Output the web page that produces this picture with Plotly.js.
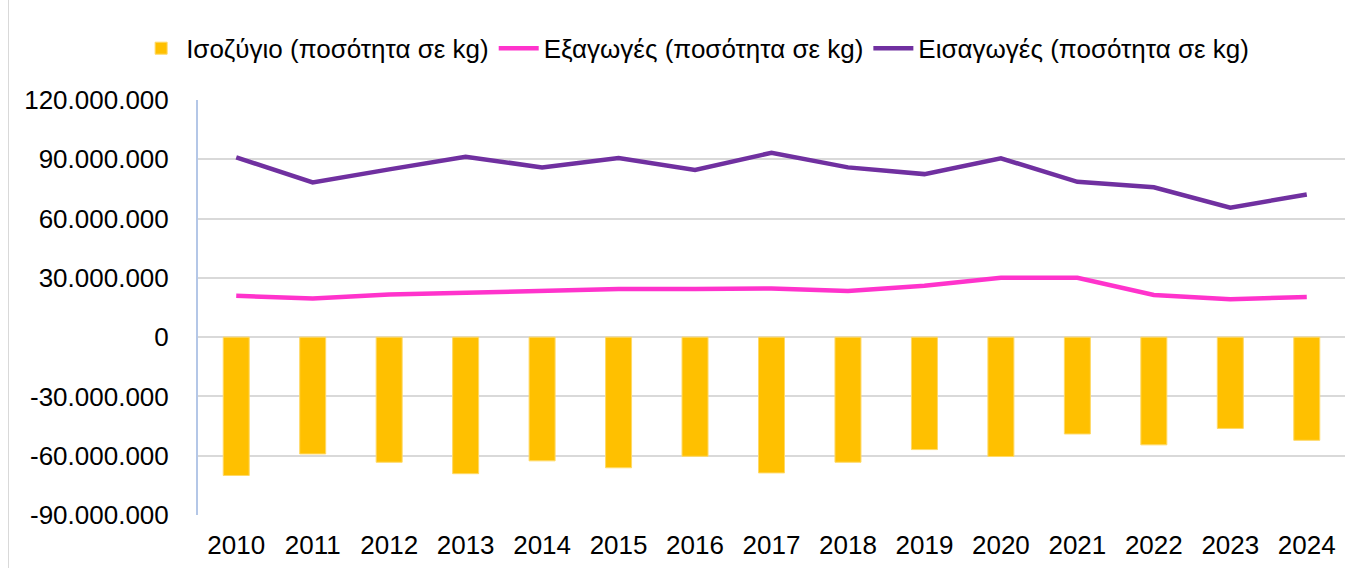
<!DOCTYPE html>
<html>
<head>
<meta charset="utf-8">
<script src="https://cdn.plot.ly/plotly-3.0.1.min.js"></script>
<style>
  html, body { margin: 0; padding: 0; background: #fff; }
  #chart { width: 1363px; height: 568px; }
  #frame { position: absolute; left: 8px; top: 0; width: 1354px; height: 580px; border-left: 1px solid #d9d9d9; pointer-events: none; }
</style>
</head>
<body>
<div id="chart"></div>
<div id="frame"></div>
<script>
// Ετήσια στοιχεία (ποσότητα σε kg), διαβασμένα από το γράφημα
const years = ['2010', '2011', '2012', '2013', '2014', '2015', '2016', '2017',
               '2018', '2019', '2020', '2021', '2022', '2023', '2024'];

const isozygio = [-70.0e6, -59.1e6, -63.3e6, -69.1e6, -62.6e6, -66.1e6, -60.3e6, -68.7e6,
                  -63.3e6, -56.9e6, -60.4e6, -49.0e6, -54.5e6, -46.2e6, -52.2e6];

const exagoges = [20.9e6, 19.6e6, 21.6e6, 22.4e6, 23.4e6, 24.3e6, 24.3e6, 24.6e6,
                  23.3e6, 26.0e6, 30.0e6, 30.0e6, 21.3e6, 19.2e6, 20.3e6];

const eisagoges = [91.0e6, 78.3e6, 84.9e6, 91.3e6, 85.9e6, 90.6e6, 84.6e6, 93.3e6,
                   85.9e6, 82.5e6, 90.5e6, 78.6e6, 75.8e6, 65.5e6, 72.2e6];

const yTicks = [-90e6, -60e6, -30e6, 0, 30e6, 60e6, 90e6, 120e6];

// Μορφή 120.000.000 με απλό μείον
function fmt(v) {
    const s = Math.abs(v).toString().replace(/\B(?=(\d{3})+(?!\d))/g, '.');
    return (v < 0 ? '-' : '') + s;
}

const font = {family: 'Liberation Sans, Arial, sans-serif', size: 26, color: '#000'};
const legendFont = {family: 'Liberation Sans, Arial, sans-serif', size: 26, color: '#000'};

const traces = [{
    x: years,
    y: isozygio,
    type: 'bar',
    name: 'Ισοζύγιο (ποσότητα σε kg)',
    marker: {color: '#FFC000', line: {color: '#FFD966', width: 1}}
}, {
    x: years,
    y: exagoges,
    type: 'scatter',
    mode: 'lines',
    name: 'Εξαγωγές (ποσότητα σε kg)',
    line: {color: '#FF33CC', width: 4.5}
}, {
    x: years,
    y: eisagoges,
    type: 'scatter',
    mode: 'lines',
    name: 'Εισαγωγές (ποσότητα σε kg)',
    line: {color: '#7030A0', width: 4.5}
}];

Plotly.newPlot('chart', traces, {
    width: 1363,
    height: 568,
    margin: {l: 198, r: 18, t: 100, b: 53},
    paper_bgcolor: '#fff',
    plot_bgcolor: '#fff',
    font: font,
    bargap: 0.66,
    showlegend: true,
    legend: {
        orientation: 'h',
        xref: 'container', yref: 'container',
        x: 0.51, xanchor: 'center',
        y: 0.915, yanchor: 'middle',
        font: legendFont,
        itemwidth: 40,
        tracegroupgap: 0
    },
    xaxis: {
        type: 'category',
        showgrid: false,
        showline: false,
        zeroline: false,
        ticks: '',
        ticklabelstandoff: 12,
        tickfont: font
    },
    yaxis: {
        range: [-90e6, 120e6],
        tickvals: yTicks,
        ticktext: yTicks.map(fmt),
        showgrid: true,
        gridcolor: '#d9d9d9',
        gridwidth: 2,
        zeroline: true,
        zerolinecolor: '#d9d9d9',
        zerolinewidth: 2,
        showline: true,
        linecolor: '#b4c7e7',
        linewidth: 2,
        ticks: '',
        ticklabelstandoff: 22,
        tickfont: font
    }
}, {displayModeBar: false, staticPlot: true});
</script>
</body>
</html>
